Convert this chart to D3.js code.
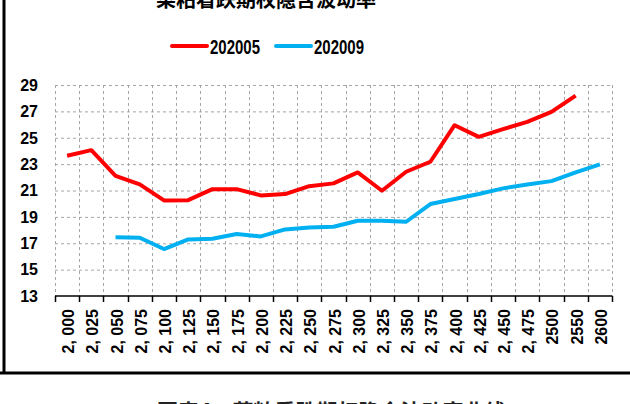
<!DOCTYPE html>
<html>
<head>
  <meta charset="utf-8">
  <title>菜粕看跌期权隐含波动率</title>
  <script src="https://d3js.org/d3.v7.min.js"></script>
  <style>
    body {
      margin: 0;
      background: #fff;
    }
    svg text {
      font-family: "Liberation Sans", Arial, sans-serif;
      font-weight: bold;
    }
  </style>
</head>
<body>
  <div id="chart"></div>
  <script>
    // strike prices
    var categories = ["2, 000", "2, 025", "2, 050", "2, 075", "2, 100", "2, 125", "2, 150", "2, 175",
      "2, 200", "2, 225", "2, 250", "2, 275", "2, 300", "2, 325", "2, 350", "2, 375", "2, 400",
      "2, 425", "2, 450", "2, 475", "2500", "2550", "2600"];
    // implied vol, 202005 contract
    var series202005 = [23.63, 24.06, 22.11, 21.46, 20.25, 20.27, 21.1, 21.1, 20.63, 20.73, 21.33,
      21.54, 22.37, 20.98, 22.42, 23.18, 25.95, 25.07, 25.65, 26.2, 26.96, 28.2, null];
    // implied vol, 202009 contract
    var series202009 = [null, null, 17.45, 17.42, 16.56, 17.29, 17.34, 17.7, 17.52, 18.05, 18.2,
      18.25, 18.71, 18.71, 18.63, 19.97, 20.35, 20.73, 21.16, 21.46, 21.71, 22.37, 22.98];
    var yTicks = [13, 15, 17, 19, 21, 23, 25, 27, 29];

    var width = 630, height = 404;
    var svg = d3.select("#chart").append("svg")
      .attr("width", width)
      .attr("height", height);

    var x = d3.scaleBand().domain(categories).range([55, 612]).padding(0);
    var y = d3.scaleLinear().domain([13, 29]).range([296, 85]);
    var bw = x.bandwidth();

    // frame lines of the report page
    svg.append("line").attr("x1", 4).attr("x2", 4).attr("y1", 0).attr("y2", 373)
      .attr("stroke", "#000").attr("stroke-width", 3);
    svg.append("line").attr("x1", 0).attr("x2", width).attr("y1", 373).attr("y2", 373)
      .attr("stroke", "#000").attr("stroke-width", 3);

    // title (cut at top)
    svg.append("text")
      .attr("x", 266).attr("y", 7)
      .attr("text-anchor", "middle")
      .style("font-family", "'Noto Sans CJK SC'")
      .style("font-size", "20px")
      .text("菜粕看跌期权隐含波动率");

    // caption (cut at bottom)
    svg.append("text")
      .attr("x", 157).attr("y", 419)
      .style("font-family", "'Noto Sans CJK SC'")
      .style("font-size", "21px")
      .attr("fill", "#222")
      .text("图表4：菜粕看跌期权隐含波动率曲线");

    // gridlines
    var grid = svg.append("g").attr("stroke", "#a6a6a6").attr("stroke-dasharray", "3,3").attr("stroke-width", 1);
    grid.selectAll(".h").data(yTicks.slice(1)).enter().append("line")
      .attr("x1", 55).attr("x2", 612)
      .attr("y1", function(d) { return y(d) + 0.5; })
      .attr("y2", function(d) { return y(d) + 0.5; });
    var bounds = categories.map(function(c) { return x(c); }).concat([612]);
    grid.selectAll(".v").data(bounds).enter().append("line")
      .attr("x1", function(d) { return Math.round(d) + 0.5; })
      .attr("x2", function(d) { return Math.round(d) + 0.5; })
      .attr("y1", 85).attr("y2", 296);

    // x axis
    svg.append("line").attr("x1", 55).attr("x2", 612).attr("y1", 296).attr("y2", 296)
      .attr("stroke", "#000").attr("stroke-width", 1.5);
    svg.selectAll(".tick").data(bounds).enter().append("line")
      .attr("x1", function(d) { return Math.round(d) + 0.5; })
      .attr("x2", function(d) { return Math.round(d) + 0.5; })
      .attr("y1", 296).attr("y2", 302)
      .attr("stroke", "#000").attr("stroke-width", 1.5);

    svg.selectAll(".xlab").data(categories).enter().append("text")
      .attr("transform", function(d) {
        return "translate(" + (x(d) + bw / 2 + 7) + ",309) rotate(-90)";
      })
      .attr("text-anchor", "end")
      .style("font-size", "16px")
      .text(function(d) { return d; });

    // y labels
    svg.selectAll(".ylab").data(yTicks).enter().append("text")
      .attr("x", 38).attr("y", function(d) { return y(d); })
      .attr("dy", "0.36em")
      .attr("text-anchor", "end")
      .style("font-size", "16px")
      .text(function(d) { return d; });

    // lines
    var line = d3.line()
      .defined(function(d) { return d != null; })
      .x(function(d, i) { return x(categories[i]) + bw / 2; })
      .y(function(d) { return y(d); });

    svg.append("path").datum(series202005)
      .attr("d", line).attr("fill", "none")
      .attr("stroke", "#ff0000").attr("stroke-width", 4).attr("stroke-linejoin", "round");
    svg.append("path").datum(series202009)
      .attr("d", line).attr("fill", "none")
      .attr("stroke", "#00b0f0").attr("stroke-width", 4).attr("stroke-linejoin", "round");

    // legend
    var legend = [
      { name: "202005", color: "#ff0000", x: 172 },
      { name: "202009", color: "#00b0f0", x: 276 }
    ];
    var lg = svg.selectAll(".legend").data(legend).enter().append("g");
    lg.append("line")
      .attr("x1", function(d) { return d.x; }).attr("x2", function(d) { return d.x + 35; })
      .attr("y1", 46).attr("y2", 46)
      .attr("stroke", function(d) { return d.color; }).attr("stroke-width", 4).attr("stroke-linecap", "round");
    lg.append("text")
      .attr("x", function(d) { return d.x + 38; }).attr("y", 54)
      .attr("textLength", 50)
      .attr("lengthAdjust", "spacingAndGlyphs")
      .style("font-size", "20px")
      .text(function(d) { return d.name; });
  </script>
</body>
</html>
